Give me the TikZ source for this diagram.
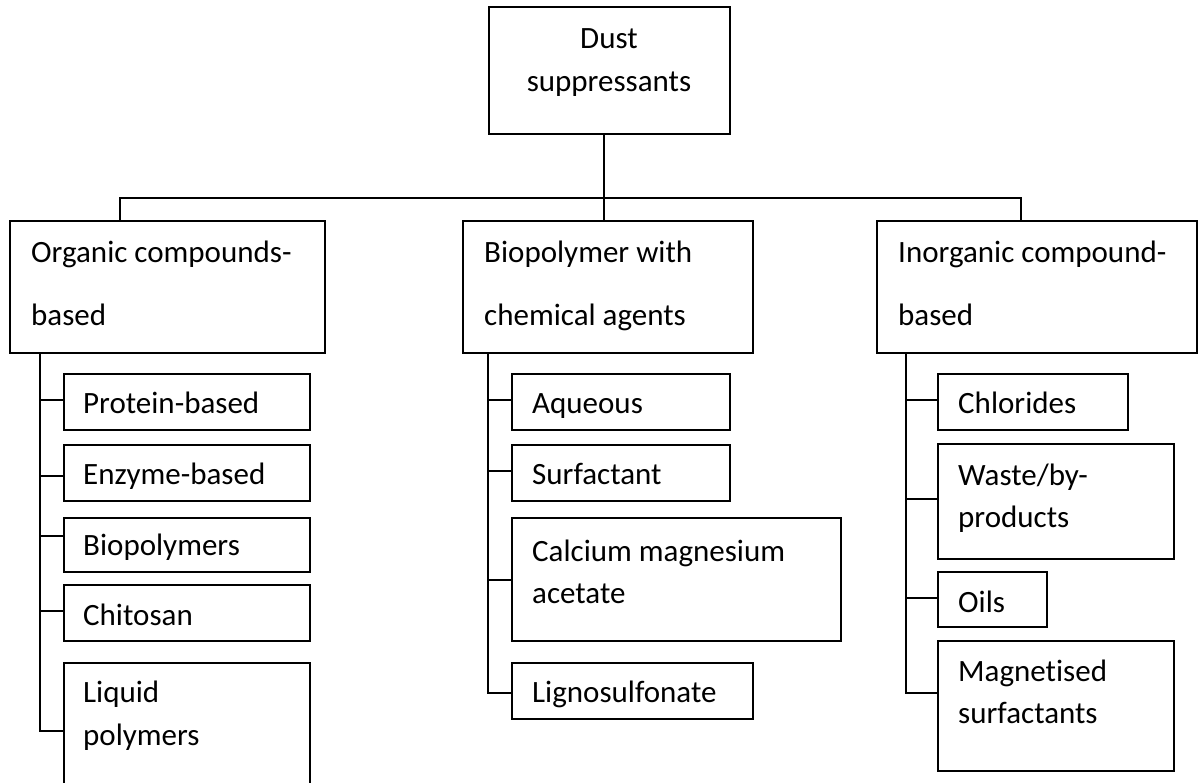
\documentclass[tikz,border=0pt]{standalone}
\usepackage{fontspec}
\setmainfont{Carlito}[Ligatures=NoCommon]
\usetikzlibrary{calc}
\tikzset{
  box/.style={draw, line width=1.9pt, rectangle, inner sep=0pt, anchor=north west},
  txt/.style={anchor=base west, inner sep=0pt, font=\fontsize{31}{37}\selectfont},
  ctxt/.style={anchor=base, inner sep=0pt, font=\fontsize{31}{37}\selectfont},
  link/.style={line width=1.9pt}
}
\begin{document}
\begin{tikzpicture}[x=1pt, y=-1pt]
\useasboundingbox (0,0) rectangle (1199,782);
\clip (0,0) rectangle (1199,782);
\fill[white] (0,0) rectangle (1199,782);

% top
\node[box, minimum width=241pt, minimum height=127pt] (dust) at (488,6) {};
\node[ctxt] (dustA) at (609,48) {Dust};
\node[ctxt] (dustB) at (609,91) {suppressants};

% level 1
\node[box, minimum width=315pt, minimum height=132pt] (org) at (9,220) {};
\node[txt] (orgA) at (31,262) {Organic compounds-};
\node[txt] (orgB) at (31,325) {based};
\node[box, minimum width=290pt, minimum height=132pt] (bio) at (462,220) {};
\node[txt] (bioA) at (484,262) {Biopolymer with};
\node[txt] (bioB) at (484,325) {chemical agents};
\node[box, minimum width=320pt, minimum height=132pt] (inorg) at (876,220) {};
\node[txt] (inoA) at (898,262) {Inorganic compound-};
\node[txt] (inoB) at (898,325) {based};

\coordinate (busL) at (120,198);
\coordinate (busR) at (1021,198);
\coordinate (busM) at (604,198);
\draw[link] (org.north -| busL) -- (busL) -- (busR) -- (inorg.north -| busR);
\draw[link] (dust.south -| busM) -- (bio.north -| busM);

% organic column
\node[box, minimum width=246pt, minimum height=56pt] (prot) at (63,373) {};
\node[txt] at (83,413) {Protein-based};
\node[box, minimum width=246pt, minimum height=56pt] (enz) at (63,444) {};
\node[txt] at (83,484) {Enzyme-based};
\node[box, minimum width=246pt, minimum height=54pt] (bpol) at (63,517) {};
\node[txt] at (83,555) {Biopolymers};
\node[box, minimum width=246pt, minimum height=56pt] (chit) at (63,584) {};
\node[txt] at (83,625) {Chitosan};
\node[box, minimum width=246pt, minimum height=138pt] (liq) at (63,662) {};
\node[txt] at (83,702) {Liquid};
\node[txt] at (83,745) {polymers};

\coordinate (orgT) at (40,352);
\draw[link] (orgT) |- (liq.west |- 0,731);
\draw[link] (orgT |- 0,400) -- (prot.west |- 0,400);
\draw[link] (orgT |- 0,476) -- (enz.west |- 0,476);
\draw[link] (orgT |- 0,536) -- (bpol.west |- 0,536);
\draw[link] (orgT |- 0,611) -- (chit.west |- 0,611);

% biopolymer column
\node[box, minimum width=218pt, minimum height=56pt] (aq) at (511,373) {};
\node[txt] at (532,413) {Aqueous};
\node[box, minimum width=218pt, minimum height=56pt] (surf) at (511,444) {};
\node[txt] at (532,484) {Surfactant};
\node[box, minimum width=329pt, minimum height=123pt] (cma) at (511,517) {};
\node[txt] at (532,561) {Calcium magnesium};
\node[txt] at (532,603) {acetate};
\node[box, minimum width=241pt, minimum height=56pt] (lig) at (511,662) {};
\node[txt] at (532,702) {Lignosulfonate};

\coordinate (bioT) at (488,352);
\draw[link] (bioT) |- (lig.west |- 0,693);
\draw[link] (bioT |- 0,400) -- (aq.west |- 0,400);
\draw[link] (bioT |- 0,471) -- (surf.west |- 0,471);
\draw[link] (bioT |- 0,580) -- (cma.west |- 0,580);

% inorganic column
\node[box, minimum width=190pt, minimum height=56pt] (chl) at (937,373) {};
\node[txt] at (958,413) {Chlorides};
\node[box, minimum width=236pt, minimum height=115pt] (waste) at (937,443) {};
\node[txt] at (958,485) {Waste/by-};
\node[txt] at (958,527) {products};
\node[box, minimum width=109pt, minimum height=55pt] (oils) at (937,571) {};
\node[txt] at (958,612) {Oils};
\node[box, minimum width=236pt, minimum height=130pt] (mag) at (937,640) {};
\node[txt] at (958,681) {Magnetised};
\node[txt] at (958,723) {surfactants};

\coordinate (inoT) at (906,352);
\draw[link] (inoT) |- (mag.west |- 0,693);
\draw[link] (inoT |- 0,400) -- (chl.west |- 0,400);
\draw[link] (inoT |- 0,499) -- (waste.west |- 0,499);
\draw[link] (inoT |- 0,598) -- (oils.west |- 0,598);
\end{tikzpicture}
\end{document}
